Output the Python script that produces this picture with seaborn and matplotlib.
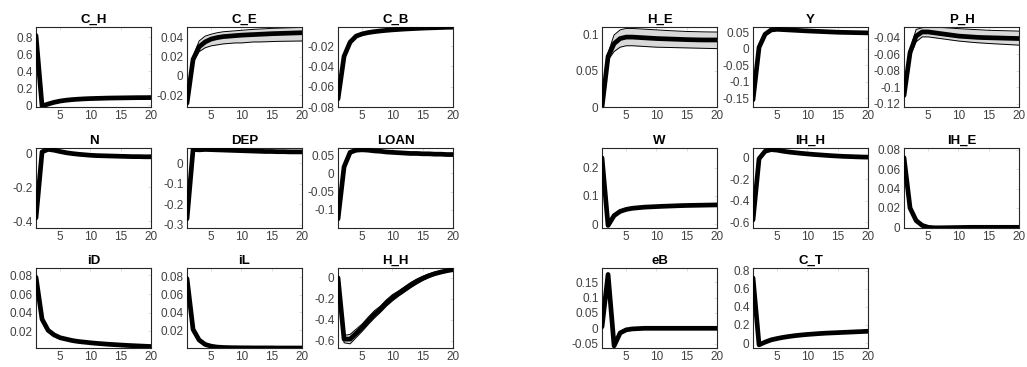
import matplotlib
matplotlib.use("Agg")
import matplotlib.pyplot as plt
import matplotlib.ticker as mticker
import seaborn as sns
import pandas as pd
import numpy as np

sns.set_theme(style="white")
plt.rcParams['font.family'] = ['Liberation Sans', 'DejaVu Sans']
plt.rcParams['axes.unicode_minus'] = False

periods = list(range(1, 21))
xticks = [5, 10, 15, 20]

# ---- mean responses ----
C_H = [0.82, -0.01, 0.015, 0.035, 0.05, 0.06, 0.067, 0.072, 0.076, 0.079, 0.081, 0.083, 0.085, 0.086, 0.087, 0.088, 0.089, 0.09, 0.09, 0.091]
C_E = [-0.028, 0.017, 0.03, 0.035, 0.038, 0.0395, 0.0405, 0.041, 0.0415, 0.042, 0.0423, 0.0426, 0.0429, 0.0432, 0.0435, 0.0437, 0.0439, 0.0441, 0.0443, 0.0445]
C_E_lo = [-0.028, 0.014, 0.025, 0.029, 0.031, 0.032, 0.033, 0.0335, 0.034, 0.034, 0.0345, 0.035, 0.035, 0.0352, 0.0354, 0.0356, 0.0357, 0.0358, 0.0359, 0.036]
C_E_hi = [-0.028, 0.02, 0.036, 0.041, 0.043, 0.0445, 0.0455, 0.046, 0.0465, 0.047, 0.0475, 0.048, 0.0483, 0.0486, 0.049, 0.0492, 0.0494, 0.0496, 0.0498, 0.05]
C_B = [-0.072, -0.03, -0.016, -0.010, -0.0078, -0.0065, -0.0056, -0.0049, -0.0043, -0.0038, -0.0034, -0.003, -0.0027, -0.0024, -0.0021, -0.0019, -0.0017, -0.0015, -0.0013, -0.0012]
N = [-0.38, 0.01, 0.025, 0.02, 0.012, 0.005, 0.0, -0.004, -0.007, -0.01, -0.012, -0.013, -0.014, -0.015, -0.016, -0.017, -0.018, -0.018, -0.019, -0.019]
DEP = [-0.27, 0.068, 0.066, 0.068, 0.067, 0.066, 0.065, 0.064, 0.063, 0.062, 0.061, 0.06, 0.059, 0.058, 0.058, 0.057, 0.057, 0.056, 0.056, 0.056]
LOAN = [-0.125, 0.018, 0.058, 0.064, 0.065, 0.064, 0.062, 0.061, 0.059, 0.058, 0.057, 0.056, 0.055, 0.055, 0.054, 0.054, 0.053, 0.053, 0.052, 0.052]
iD = [0.078, 0.033, 0.021, 0.016, 0.013, 0.0115, 0.010, 0.009, 0.0083, 0.0076, 0.007, 0.0065, 0.006, 0.0056, 0.0052, 0.0048, 0.0045, 0.0042, 0.0039, 0.0036]
iL = [0.078, 0.021, 0.009, 0.004, 0.002, 0.001, 0.0006, 0.0004, 0.0003, 0.0002, 0.0002, 0.0001, 0.0001, 0.0001, 0.0001, 0.0, 0.0, 0.0, 0.0, 0.0]
H_H = [0.0, -0.585, -0.585, -0.53, -0.475, -0.41, -0.35, -0.3, -0.24, -0.19, -0.15, -0.11, -0.07, -0.035, -0.005, 0.02, 0.04, 0.055, 0.068, 0.078]
H_H_lo = [0.0, -0.62, -0.63, -0.57, -0.51, -0.445, -0.385, -0.33, -0.27, -0.22, -0.175, -0.135, -0.095, -0.058, -0.025, 0.003, 0.025, 0.042, 0.057, 0.07]
H_H_hi = [0.0, -0.55, -0.54, -0.49, -0.44, -0.375, -0.315, -0.27, -0.21, -0.16, -0.125, -0.085, -0.045, -0.012, 0.015, 0.037, 0.055, 0.068, 0.079, 0.086]
H_E = [0.0, 0.07, 0.088, 0.095, 0.097, 0.097, 0.0965, 0.096, 0.0955, 0.095, 0.0947, 0.0944, 0.0941, 0.0938, 0.0935, 0.0933, 0.0931, 0.093, 0.093, 0.093]
H_E_lo = [0.0, 0.065, 0.077, 0.083, 0.085, 0.085, 0.0845, 0.084, 0.0835, 0.083, 0.0828, 0.0826, 0.0824, 0.0822, 0.082, 0.0818, 0.0816, 0.0814, 0.0812, 0.081]
H_E_hi = [0.0, 0.075, 0.1, 0.107, 0.109, 0.109, 0.1085, 0.108, 0.1075, 0.107, 0.1065, 0.106, 0.1056, 0.1052, 0.1048, 0.1046, 0.1044, 0.1042, 0.1041, 0.104]
Y = [-0.155, 0.005, 0.045, 0.058, 0.06, 0.059, 0.058, 0.057, 0.056, 0.055, 0.0542, 0.0534, 0.0526, 0.0518, 0.051, 0.0506, 0.0502, 0.0498, 0.0494, 0.049]
P_H = [-0.11, -0.058, -0.038, -0.033, -0.033, -0.034, -0.035, -0.036, -0.037, -0.038, -0.0385, -0.039, -0.0395, -0.0398, -0.040, -0.0402, -0.0404, -0.0406, -0.0408, -0.041]
P_H_lo = [-0.11, -0.062, -0.045, -0.039, -0.039, -0.040, -0.041, -0.042, -0.043, -0.044, -0.0447, -0.0454, -0.046, -0.0465, -0.047, -0.0474, -0.0478, -0.0482, -0.0486, -0.049]
P_H_hi = [-0.11, -0.054, -0.030, -0.028, -0.027, -0.027, -0.0275, -0.028, -0.0285, -0.029, -0.0294, -0.0298, -0.0302, -0.0306, -0.031, -0.0312, -0.0314, -0.0316, -0.0318, -0.032]
W = [0.235, -0.005, 0.03, 0.045, 0.052, 0.056, 0.058, 0.06, 0.061, 0.062, 0.063, 0.0638, 0.0646, 0.0654, 0.066, 0.0664, 0.0668, 0.0672, 0.0676, 0.068]
IH_H = [-0.58, -0.01, 0.06, 0.075, 0.07, 0.06, 0.052, 0.046, 0.04, 0.035, 0.03, 0.026, 0.022, 0.018, 0.015, 0.012, 0.01, 0.008, 0.006, 0.005]
IH_E = [0.072, 0.02, 0.007, 0.002, 0.0, -0.0005, -0.0005, -0.0004, -0.0003, -0.0002, -0.0001, 0.0, 0.0, 0.0, 0.0, 0.0, 0.0, 0.0, 0.0, 0.0]
eB = [0.005, 0.175, -0.057, -0.015, -0.005, -0.002, -0.001, 0.0, 0.0, 0.0, 0.0, 0.0, 0.0, 0.0, 0.0, 0.0, 0.0, 0.0, 0.0, 0.0]
C_T = [0.72, -0.02, 0.01, 0.035, 0.05, 0.063, 0.073, 0.082, 0.089, 0.095, 0.1, 0.105, 0.109, 0.112, 0.115, 0.118, 0.121, 0.124, 0.127, 0.13]

# title, mean, lower, upper, ylim, yticks, group, row, col
panels = [
    ("C_H", C_H, None, None, (-0.02, 0.92), [0, 0.2, 0.4, 0.6, 0.8], 0, 0, 0),
    ("C_E", C_E, C_E_lo, C_E_hi, (-0.032, 0.0504), [-0.02, 0, 0.02, 0.04], 0, 0, 1),
    ("C_B", C_B, None, None, (-0.08, -0.001), [-0.08, -0.06, -0.04, -0.02], 0, 0, 2),
    ("N", N, None, None, (-0.44, 0.033), [-0.4, -0.2, 0], 0, 1, 0),
    ("DEP", DEP, None, None, (-0.315, 0.075), [-0.3, -0.2, -0.1, 0], 0, 1, 1),
    ("LOAN", LOAN, None, None, (-0.15, 0.07), [-0.1, -0.05, 0, 0.05], 0, 1, 2),
    ("iD", iD, None, None, (0.002, 0.088), [0.02, 0.04, 0.06, 0.08], 0, 2, 0),
    ("iL", iL, None, None, (0.0, 0.09), [0.02, 0.04, 0.06, 0.08], 0, 2, 1),
    ("H_H", H_H, H_H_lo, H_H_hi, (-0.67, 0.094), [-0.6, -0.4, -0.2, 0], 0, 2, 2),
    ("H_E", H_E, H_E_lo, H_E_hi, (0.0, 0.111), [0, 0.05, 0.1], 1, 0, 0),
    ("Y", Y, None, None, (-0.177, 0.067), [-0.15, -0.1, -0.05, 0, 0.05], 1, 0, 1),
    ("P_H", P_H, P_H_lo, P_H_hi, (-0.124, -0.027), [-0.12, -0.1, -0.08, -0.06, -0.04], 1, 0, 2),
    ("W", W, None, None, (-0.014, 0.27), [0, 0.1, 0.2], 1, 1, 0),
    ("IH_H", IH_H, None, None, (-0.655, 0.09), [-0.6, -0.4, -0.2, 0], 1, 1, 1),
    ("IH_E", IH_E, None, None, (-0.0007, 0.082), [0, 0.02, 0.04, 0.06, 0.08], 1, 1, 2),
    ("eB", eB, None, None, (-0.064, 0.196), [-0.05, 0, 0.05, 0.1, 0.15], 1, 2, 0),
    ("C_T", C_T, None, None, (-0.055, 0.83), [0, 0.2, 0.4, 0.6, 0.8], 1, 2, 1),
]

W_PX, H_PX = 1027, 367
fig = plt.figure(figsize=(W_PX / 100, H_PX / 100), dpi=100)
fig.patch.set_facecolor("white")

group_x = [[36, 187, 338], [602, 753, 904]]
row_top = [27, 148, 268]
ax_w, ax_h = 115, 80

fmt = mticker.FuncFormatter(lambda v, p: "{:g}".format(round(v, 6)))

for title, mean, lo, hi, ylim, yt, g, r, c in panels:
    left = group_x[g][c] / W_PX
    bottom = 1 - (row_top[r] + ax_h) / H_PX
    ax = fig.add_axes([left, bottom, ax_w / W_PX, ax_h / H_PX])
    if lo is not None:
        ax.fill_between(periods, lo, hi, color="#d9d9d9", lw=0, zorder=1)
        df_b = pd.DataFrame({"t": periods + periods,
                             "v": lo + hi,
                             "b": ["lo"] * 20 + ["hi"] * 20})
        sns.lineplot(data=df_b, x="t", y="v", units="b", estimator=None,
                     color="black", lw=0.7, ax=ax, zorder=2)
    df = pd.DataFrame({"t": periods, "v": mean})
    sns.lineplot(data=df, x="t", y="v", color="black", lw=3.4, ax=ax, zorder=3)
    ax.set_xlim(1, 20)
    ax.set_ylim(*ylim)
    ax.set_xticks(xticks)
    ax.set_yticks(yt)
    ax.yaxis.set_major_formatter(fmt)
    ax.set_xlabel("")
    ax.set_ylabel("")
    ax.set_title(title, fontsize=9.5, fontweight="bold", pad=3, color="black")
    ax.tick_params(direction="in", length=2.5, width=0.5, labelsize=8.5,
                   colors="#d0d0d0", labelcolor="#404040", pad=2.5,
                   top=True, right=True)
    for s in ax.spines.values():
        s.set_color("#262626")
        s.set_linewidth(0.8)
        s.set_visible(True)

fig.savefig("out.png", dpi=100, facecolor="white")
